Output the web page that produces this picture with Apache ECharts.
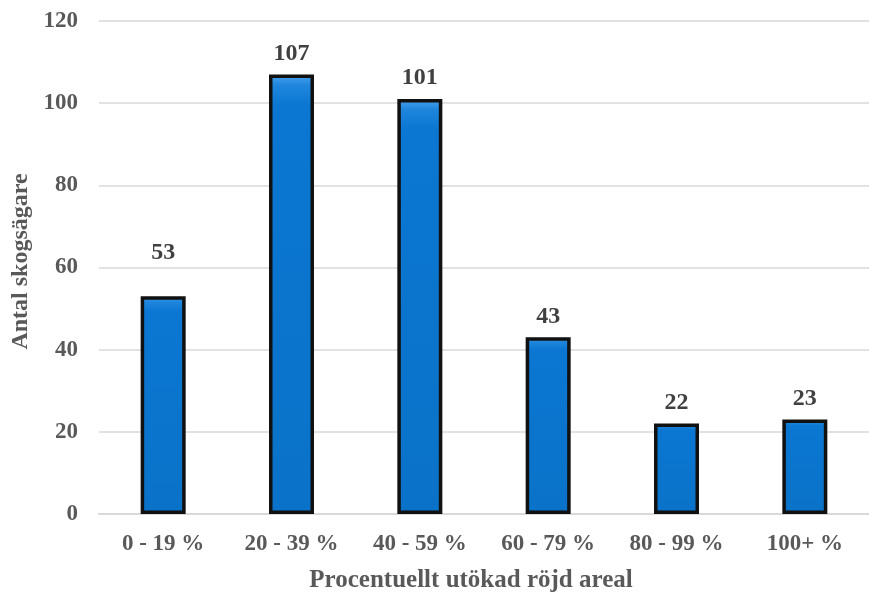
<!DOCTYPE html>
<html><head><meta charset="utf-8">
<script src="https://cdn.jsdelivr.net/npm/echarts@6/dist/echarts.min.js"></script>
<style>html,body{margin:0;padding:0;background:#fff}#c{width:869px;height:598px}</style>
</head><body><div id="c"></div>
<script>
var categories = ['0 - 19 %', '20 - 39 %', '40 - 59 %', '60 - 79 %', '80 - 99 %', '100+ %'];
var values = [53, 107, 101, 43, 22, 23];
var yTicks = [0, 20, 40, 60, 80, 100, 120];

var font = '"Liberation Serif", "Times New Roman", serif';
var seriesData = values.map(function (v, i) {
  // the first label sits higher above its bar in the reference
  return i === 0 ? { value: v, label: { distance: 31 } } : v;
});
var chart = echarts.init(document.getElementById('c'));
chart.setOption({
  animation: false,
  grid: { left: 99, right: -7, top: 21, bottom: 77, containLabel: false },
  xAxis: {
    type: 'category', data: categories,
    axisLine: { lineStyle: { color: '#d9d9d9', width: 2 } },
    axisTick: { show: false },
    axisLabel: { color: '#595959', fontFamily: font, fontWeight: 'bold', fontSize: 23, margin: 19 },
    name: 'Procentuellt utökad röjd areal', nameLocation: 'middle', nameGap: 54,
    nameTextStyle: { color: '#595959', fontFamily: font, fontWeight: 'bold', fontSize: 25, padding: [0, 26, 0, 0] }
  },
  yAxis: {
    type: 'value', min: yTicks[0], max: yTicks[yTicks.length - 1], interval: 20,
    splitLine: { lineStyle: { color: '#d9d9d9', width: 1.5 } },
    axisLine: { show: false }, axisTick: { show: false },
    axisLabel: { color: '#595959', fontFamily: font, fontWeight: 'bold', fontSize: 23, margin: 21 },
    name: 'Antal skogsägare', nameLocation: 'middle', nameGap: 65,
    nameTextStyle: { color: '#595959', fontFamily: font, fontWeight: 'bold', fontSize: 24, padding: [0, 0, 0, 12] }
  },
  series: [{
    type: 'bar', data: seriesData, barWidth: 45,
    itemStyle: {
      color: new echarts.graphic.LinearGradient(0, 0, 0, 1, [
        { offset: 0, color: '#4aa3ee' },
        { offset: 0.025, color: '#1f86dd' },
        { offset: 0.07, color: '#0b77d2' },
        { offset: 1, color: '#0a72c8' }
      ]),
      borderColor: '#111', borderWidth: 3.5
    },
    label: {
      show: true, position: 'top', distance: 9,
      color: '#404040', fontFamily: font, fontWeight: 'bold', fontSize: 24
    }
  }]
});
</script></body></html>
